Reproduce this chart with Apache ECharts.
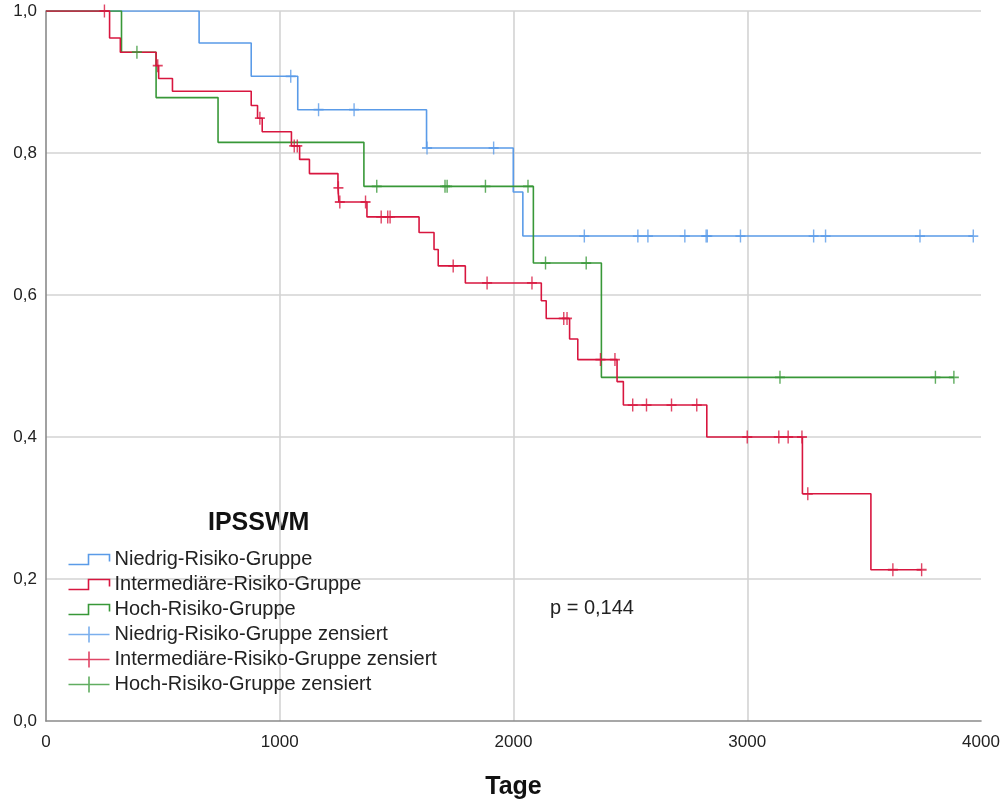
<!DOCTYPE html>
<html>
<head>
<meta charset="utf-8">
<script src="https://cdn.jsdelivr.net/npm/echarts@6/dist/echarts.min.js"></script>
<style>
html,body{margin:0;padding:0;background:#fff;}
#chart{width:1007px;height:800px;}
</style>
</head>
<body>
<div id="chart"></div>
<script>
// ---- Data ----
var groupNames = ['Niedrig-Risiko-Gruppe', 'Intermediäre-Risiko-Gruppe', 'Hoch-Risiko-Gruppe'];
var censorNames = ['Niedrig-Risiko-Gruppe zensiert', 'Intermediäre-Risiko-Gruppe zensiert', 'Hoch-Risiko-Gruppe zensiert'];

// Niedrig-Risiko-Gruppe: step times (Tage) and survival after each step
var niedrigTimes = [0, 655, 878, 1077, 1628, 1999, 2040, 3967];
var niedrigSurv  = [1.0, 0.955, 0.908, 0.861, 0.807, 0.745, 0.683, 0.683];
var niedrigCensored = [1047, 1166, 1318, 1630, 1915, 2303, 2532, 2575, 2733, 2824, 2829, 2971, 3284, 3335, 3739, 3967];

// Intermediäre-Risiko-Gruppe
var interTimes = [0, 272, 318, 471, 482, 541, 878, 905, 925, 1050, 1085, 1127, 1249, 1253, 1373, 1596, 1660, 1678, 1794, 2119, 2140, 2240, 2275, 2443, 2470, 2827, 3236, 3529, 3746];
var interSurv  = [1.0, 0.962, 0.942, 0.923, 0.905, 0.887, 0.867, 0.849, 0.830, 0.810, 0.791, 0.771, 0.751, 0.731, 0.710, 0.688, 0.664, 0.641, 0.617, 0.592, 0.567, 0.538, 0.509, 0.478, 0.445, 0.400, 0.320, 0.213, 0.213];
var interCensored = [250, 478, 915, 1062, 1075, 1251, 1257, 1367, 1434, 1462, 1472, 1742, 1887, 2079, 2215, 2229, 2372, 2434, 2510, 2569, 2676, 2784, 3000, 3135, 3175, 3234, 3259, 3623, 3746];

// Hoch-Risiko-Gruppe
var hochTimes = [0, 323, 471, 736, 1360, 2085, 2376, 3884];
var hochSurv  = [1.0, 0.942, 0.878, 0.815, 0.753, 0.645, 0.484, 0.484];
var hochCensored = [389, 1415, 1707, 1716, 1880, 2062, 2137, 2311, 3140, 3805, 3884];

var xTicks = [0, 1000, 2000, 3000, 4000];
var yTicks = [0, 0.2, 0.4, 0.6, 0.8, 1.0];
var pText = 'p = 0,144';
var legendTitle = 'IPSSWM';
var xTitle = 'Tage';

// ---- Styling ----
var colors = ['#5a9be8', '#d8163f', '#389838'];
var fontFam = '"Liberation Sans", Arial, sans-serif';

function pairs(t, s) {
  return t.map(function (v, i) { return [v, s[i]]; });
}
function survAt(t, times, surv) {
  var s = surv[0];
  for (var i = 0; i < times.length; i++) { if (times[i] <= t) s = surv[i]; }
  return s;
}
function censorPts(c, times, surv) {
  return c.map(function (t) { return [t, survAt(t, times, surv)]; });
}

var groups = [
  { times: niedrigTimes, surv: niedrigSurv, cens: niedrigCensored },
  { times: interTimes, surv: interSurv, cens: interCensored },
  { times: hochTimes, surv: hochSurv, cens: hochCensored }
];

var series = [];
// draw order: blue, green, red on top
[0, 2, 1].forEach(function (g) {
  series.push({
    name: groupNames[g],
    type: 'line',
    step: 'end',
    showSymbol: false,
    symbol: 'none',
    silent: true,
    animation: false,
    lineStyle: { color: colors[g], width: 1.6 },
    itemStyle: { color: colors[g] },
    data: pairs(groups[g].times, groups[g].surv),
    z: 2
  });
});
[0, 2, 1].forEach(function (g) {
  series.push({
    name: censorNames[g],
    type: 'scatter',
    symbol: 'path://M0,6 L10,6 M5,0 L5,12',
    symbolSize: [10, 13],
    silent: true,
    animation: false,
    itemStyle: { color: 'none', borderColor: colors[g], borderWidth: 1.6 },
    data: censorPts(groups[g].cens, groups[g].times, groups[g].surv),
    z: 3
  });
});

var stepIcon = 'path://M0,0 M0,16 M0,13 L20,13 L20,3 L41,3 L41,10';
var plusIcon = 'path://M0,8 L41,8 M20.5,0 L20.5,16';
var legendData = [];
for (var i = 0; i < 3; i++) {
  legendData.push({ name: groupNames[i], icon: stepIcon,
    itemStyle: { color: 'none', borderColor: colors[i], borderWidth: 1.6 } });
}
for (var j = 0; j < 3; j++) {
  legendData.push({ name: censorNames[j], icon: plusIcon,
    itemStyle: { color: 'none', borderColor: colors[j], borderWidth: 1.6 } });
}

var chart = echarts.init(document.getElementById('chart'), null, { renderer: 'canvas' });
chart.setOption({
  animation: false,
  backgroundColor: '#ffffff',
  grid: { left: 46, right: 26, top: 11, bottom: 79, containLabel: false, outerBoundsMode: 'none' },
  xAxis: {
    type: 'value',
    min: xTicks[0], max: xTicks[xTicks.length - 1], interval: 1000,
    name: xTitle, nameLocation: 'middle', nameGap: 54,
    nameTextStyle: { fontFamily: fontFam, fontSize: 25, fontWeight: 'bold', color: '#111' },
    axisLine: { show: true, lineStyle: { color: '#8a8a8a', width: 1.6 } },
    axisTick: { show: false },
    axisLabel: { margin: 13, fontFamily: fontFam, fontSize: 17, color: '#222', showMinLabel: true, showMaxLabel: true,
      formatter: function (v) { return String(v); } },
    splitLine: { show: true, showMinLine: false, showMaxLine: false, lineStyle: { color: '#d3d3d3', width: 1.6 } }
  },
  yAxis: {
    type: 'value',
    min: yTicks[0], max: yTicks[yTicks.length - 1], interval: 0.2,
    axisLine: { show: true, lineStyle: { color: '#8a8a8a', width: 1.6 } },
    axisTick: { show: false },
    axisLabel: { margin: 9, fontFamily: fontFam, fontSize: 17, color: '#222',
      formatter: function (v) { return v.toFixed(1).replace('.', ','); } },
    splitLine: { show: true, showMinLine: false, lineStyle: { color: '#d3d3d3', width: 1.6 } }
  },
  legend: {
    show: true,
    orient: 'vertical',
    left: 66, top: 547, padding: 0,
    itemWidth: 41, itemHeight: 16, itemGap: 0,
    selectedMode: false,
    textStyle: { fontFamily: fontFam, fontSize: 20, color: '#222', lineHeight: 25 },
    data: legendData
  },
  graphic: [
    { type: 'text', left: 208, top: 511, silent: true,
      style: { text: legendTitle, font: 'bold 25px ' + fontFam, fill: '#111' } },
    { type: 'text', left: 550, top: 598, silent: true,
      style: { text: pText, font: '20px ' + fontFam, fill: '#222' } }
  ],
  series: series
});
</script>
</body>
</html>
